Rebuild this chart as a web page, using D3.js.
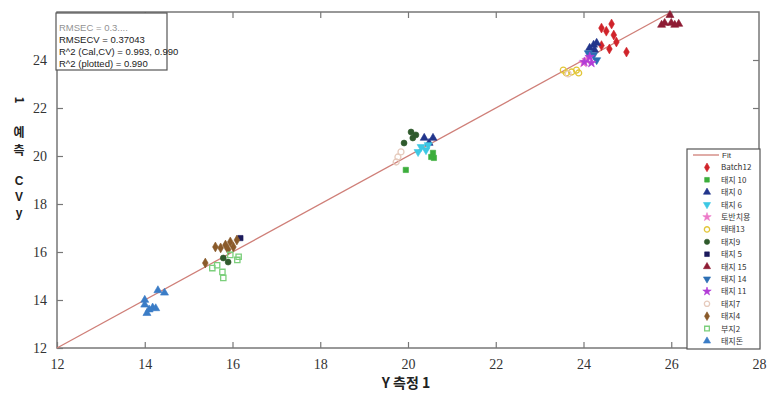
<html>
<head>
<meta charset="utf-8">
<script src="https://d3js.org/d3.v7.min.js"></script>
<style>
body { margin: 0; background: #fff; }
</style>
</head>
<body>
<div id="chart"></div>
<script>
// ticks
const xTicks = [12, 14, 16, 18, 20, 22, 24, 26, 28];
const yTicks = [12, 14, 16, 18, 20, 22, 24];
const fitLine = [[12, 12], [26, 26]];
const statLines = ["RMSEC = 0.3....", "RMSECV = 0.37043", "R^2 (Cal,CV) = 0.993, 0.990", "R^2 (plotted) = 0.990"];

// series (measured, predicted)
const batch12 = [[24.41, 25.33], [24.64, 25.5], [24.69, 25.04], [24.75, 24.75], [24.41, 24.6], [24.59, 24.46], [24.98, 24.33], [24.52, 25.2]];
const t10 = [[20.57, 20.13], [20.59, 19.92], [20.53, 19.96], [19.95, 19.42]];
const t0 = [[20.37, 20.75], [20.57, 20.75], [20.48, 20.54], [24.23, 24.63], [24.3, 24.71], [24.14, 24.5], [24.25, 24.42]];
const t6 = [[20.3, 20.38], [20.23, 20.17], [20.41, 20.25], [20.46, 20.46]];
const tBan = [[24.07, 24.0], [24.0, 23.88]];
const t13 = [[23.61, 23.46], [23.73, 23.5], [23.84, 23.58], [23.89, 23.46], [23.54, 23.58]];
const t9 = [[20.07, 21.0], [20.11, 20.75], [19.91, 20.54], [20.18, 20.88], [15.79, 15.75], [15.9, 15.58]];
const t5 = [[16.18, 16.58]];
const t15 = [[25.78, 25.46], [25.85, 25.54], [26.0, 25.54], [26.17, 25.5], [25.97, 25.87], [26.08, 25.46]];
const t14 = [[24.23, 24.21], [24.3, 24.0], [24.11, 24.29]];
const t11 = [[24.14, 24.13], [24.02, 23.92], [24.18, 23.88]];
const t7 = [[19.77, 19.96], [19.73, 19.75], [19.84, 20.17], [23.65, 23.42]];
const t4 = [[15.84, 16.29], [15.95, 16.42], [15.73, 16.17], [15.61, 16.21], [16.02, 16.21], [15.38, 15.54], [16.1, 16.5], [15.9, 16.1]];
const b2 = [[15.54, 15.33], [15.77, 15.17], [15.79, 14.92], [16.11, 15.67], [15.95, 15.88], [16.14, 15.8], [15.65, 15.45]];
const tDon = [[14.0, 14.0], [14.3, 14.4], [14.45, 14.3], [14.1, 13.6], [14.18, 13.68], [14.05, 13.45], [14.25, 13.65], [14.0, 13.8]];

const series = [
  {name: "Batch12", data: batch12, shape: d3.symbolDiamond, color: "#d0232a", fill: true, rot: 0},
  {name: "태지 10", data: t10, shape: d3.symbolSquare, color: "#3cae3c", fill: true, rot: 0},
  {name: "태지 0", data: t0, shape: d3.symbolTriangle, color: "#22358c", fill: true, rot: 0},
  {name: "태지 6", data: t6, shape: d3.symbolTriangle, color: "#3cc8e4", fill: true, rot: 180},
  {name: "토반치용", data: tBan, shape: d3.symbolStar, color: "#ec78c8", fill: true, rot: 0},
  {name: "태태13", data: t13, shape: d3.symbolCircle, color: "#e2c63a", fill: false, rot: 0},
  {name: "태지9", data: t9, shape: d3.symbolCircle, color: "#2f5a2c", fill: true, rot: 0},
  {name: "태지 5", data: t5, shape: d3.symbolSquare, color: "#1b1a5c", fill: true, rot: 0},
  {name: "태지 15", data: t15, shape: d3.symbolTriangle, color: "#8e1c34", fill: true, rot: 0},
  {name: "태지 14", data: t14, shape: d3.symbolTriangle, color: "#2c6eb4", fill: true, rot: 180},
  {name: "태지 11", data: t11, shape: d3.symbolStar, color: "#b23cd6", fill: true, rot: 0},
  {name: "태지7", data: t7, shape: d3.symbolCircle, color: "#e6cbbd", fill: false, rot: 0},
  {name: "태지4", data: t4, shape: d3.symbolDiamond, color: "#8a5a2a", fill: true, rot: 0},
  {name: "부지2", data: b2, shape: d3.symbolSquare, color: "#7ccf7c", fill: false, rot: 0},
  {name: "태지돈", data: tDon, shape: d3.symbolTriangle, color: "#3a7cc6", fill: true, rot: 0}
];

const w = 773, h = 398;
const svg = d3.select("#chart").append("svg").attr("width", w).attr("height", h);

const x = d3.scaleLinear().domain([12, 28]).range([57, 759]);
const y = d3.scaleLinear().domain([12, 26]).range([348, 12]);

const axisColor = "#777";
const serif = "'Liberation Serif', 'DejaVu Serif', serif";
const sans = "'Liberation Sans', Arial, sans-serif";
const kr = "'Noto Sans CJK KR', sans-serif";

// frame
svg.append("rect")
  .attr("x", x(12)).attr("y", y(26))
  .attr("width", x(28) - x(12)).attr("height", y(12) - y(26))
  .attr("fill", "none").attr("stroke", axisColor).attr("stroke-width", 1.5);

// axes, ticks inward
svg.append("g").attr("transform", `translate(0,${y(12)})`)
  .call(d3.axisBottom(x).tickValues(xTicks).tickSize(-6).tickPadding(11));
svg.append("g").attr("transform", `translate(${x(12)},0)`)
  .call(d3.axisLeft(y).tickValues(yTicks).tickSize(-6).tickPadding(10));
svg.append("g").attr("transform", `translate(0,${y(26)})`)
  .call(d3.axisTop(x).tickValues(xTicks.slice(1, -1)).tickSize(-6).tickFormat(""));
svg.append("g").attr("transform", `translate(${x(28)},0)`)
  .call(d3.axisRight(y).tickValues(yTicks.slice(1)).tickSize(-6).tickFormat(""));
svg.selectAll(".domain").remove();
svg.selectAll(".tick line").attr("stroke", axisColor).attr("stroke-width", 1.2);
svg.selectAll(".tick text").attr("font-family", serif).attr("font-size", 14).attr("fill", "#333");

// fit line
svg.append("line")
  .attr("x1", x(fitLine[0][0])).attr("y1", y(fitLine[0][1]))
  .attr("x2", x(fitLine[1][0])).attr("y2", y(fitLine[1][1]))
  .attr("stroke", "#cf7f78").attr("stroke-width", 1.3);

function drawSym(g, s, px, py, size) {
  g.append("path")
    .attr("d", d3.symbol().type(s.shape).size(size)())
    .attr("transform", `translate(${px},${py}) rotate(${s.rot})`)
    .attr("fill", s.fill ? s.color : "none")
    .attr("stroke", s.color)
    .attr("stroke-width", s.fill ? 0.6 : 1.3);
}

const pts = svg.append("g");
series.forEach(s => {
  s.data.forEach(d => drawSym(pts, s, x(d[0]), y(d[1]), 28));
});

// stats box
svg.append("rect").attr("x", 56).attr("y", 13).attr("width", 111).attr("height", 57)
  .attr("fill", "#fff").attr("stroke", "#555").attr("stroke-width", 1.2);
svg.selectAll(".stat").data(statLines).enter().append("text")
  .attr("x", 59).attr("y", (d, i) => 31 + i * 12)
  .attr("font-family", sans).attr("font-size", 9.5).attr("fill", "#222")
  .attr("opacity", (d, i) => i === 0 ? 0.5 : 1)
  .text(d => d);

// legend
const lg = svg.append("g");
lg.append("rect").attr("x", 687).attr("y", 149).attr("width", 73).attr("height", 200)
  .attr("fill", "#fff").attr("stroke", "#555").attr("stroke-width", 1.2);
lg.append("line").attr("x1", 693).attr("x2", 719).attr("y1", 155).attr("y2", 155)
  .attr("stroke", "#cf7f78").attr("stroke-width", 1.3);
lg.append("text").attr("x", 722).attr("y", 158).attr("font-family", sans)
  .attr("font-size", 8).attr("fill", "#333").text("Fit");
series.forEach((s, i) => {
  const ly = 167.4 + i * 12.4;
  drawSym(lg, s, 707, ly, 22);
  lg.append("text").attr("x", 721).attr("y", ly + 3).attr("font-family", kr)
    .attr("font-size", 8).attr("fill", "#333").text(s.name);
});

// axis titles
svg.append("text").attr("x", 406).attr("y", 388).attr("text-anchor", "middle")
  .attr("font-family", kr).attr("font-weight", "bold")
  .attr("font-size", 14).attr("fill", "#222").text("Y 측정 1");
const yLabel = ["1", "예", "측", "C", "V", "y"];
const yLabelPos = [104, 137, 155, 185, 201, 217];
yLabel.forEach((c, i) => {
  const t = svg.append("text").attr("x", 19).attr("y", yLabelPos[i]).attr("text-anchor", "middle")
    .attr("font-family", i < 3 ? kr : sans).attr("font-weight", "bold")
    .attr("font-size", 12).attr("fill", "#222").text(c);
  if (i === 0) t.attr("transform", `rotate(90,19,${yLabelPos[i] - 4})`);
});
</script>
</body>
</html>
